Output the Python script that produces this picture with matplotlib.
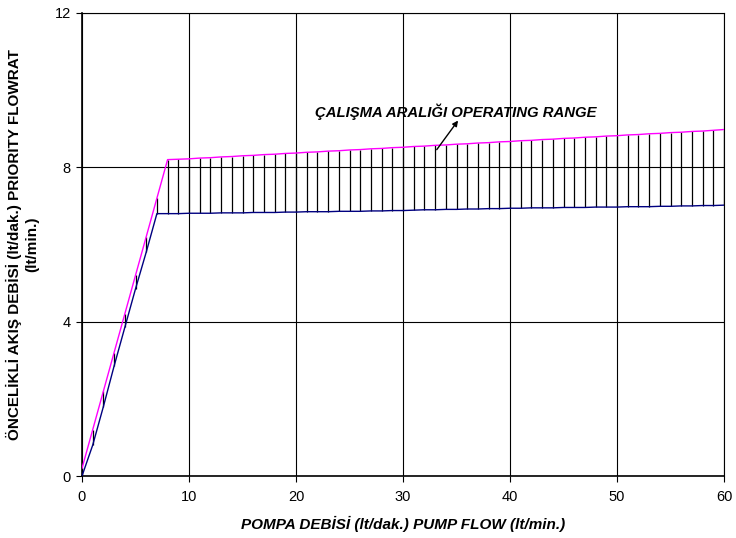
import matplotlib
matplotlib.use("Agg")
import matplotlib.pyplot as plt

plt.rcParams['font.family'] = ['Liberation Sans', 'DejaVu Sans']

pump_flow = list(range(61))
upper = [0.2, 1.2, 2.2, 3.2, 4.2, 5.2, 6.2, 7.2, 8.20,
         8.21, 8.22, 8.24, 8.25, 8.27, 8.28, 8.30, 8.31, 8.33, 8.34, 8.36,
         8.37, 8.39, 8.40, 8.42, 8.43, 8.45, 8.46, 8.48, 8.49, 8.51,
         8.52, 8.54, 8.55, 8.57, 8.58, 8.60, 8.61, 8.63, 8.64, 8.66,
         8.67, 8.69, 8.70, 8.72, 8.73, 8.75, 8.76, 8.78, 8.79, 8.81,
         8.82, 8.84, 8.85, 8.87, 8.88, 8.90, 8.91, 8.93, 8.94, 8.96, 8.98]
lower = [0.0, 0.8, 1.8, 2.85, 3.85, 4.85, 5.8, 6.8,
         6.80, 6.80, 6.81, 6.81, 6.81, 6.82, 6.82, 6.82, 6.83, 6.83, 6.83,
         6.84, 6.84, 6.85, 6.85, 6.85, 6.86, 6.86, 6.86, 6.87, 6.87, 6.88,
         6.88, 6.89, 6.90, 6.90, 6.91, 6.91, 6.92, 6.92, 6.93, 6.93,
         6.94, 6.94, 6.95, 6.95, 6.95, 6.96, 6.96, 6.96, 6.97, 6.97,
         6.97, 6.98, 6.98, 6.98, 6.99, 6.99, 7.00, 7.00, 7.01, 7.01, 7.02]

x_ticks = [0, 10, 20, 30, 40, 50, 60]
y_ticks = [0, 4, 8, 12]

fig = plt.figure(figsize=(7.36, 5.38), dpi=100)
ax = fig.add_axes([82/736, 1-476/538, (724-82)/736, (476-13)/538])

ax.vlines(pump_flow, lower, upper, colors='black', linewidth=0.9, zorder=2)
ax.plot(pump_flow, upper, color='#FF00FF', linewidth=1.0, zorder=3)
ax.plot(pump_flow, lower, color='#000080', linewidth=1.0, zorder=3)

ax.set_xlim(0, 60)
ax.set_ylim(0, 12)
ax.set_xticks(x_ticks)
ax.set_yticks(y_ticks)
ax.grid(True, color='black', linewidth=0.8, zorder=1)
ax.set_axisbelow(True)
for s in ax.spines.values():
    s.set_color('black')
    s.set_linewidth(0.8)
ax.spines['left'].set_linewidth(1.2)
ax.spines['bottom'].set_linewidth(1.2)
ax.tick_params(axis='both', labelsize=10.5, length=4, width=0.8, direction='out', pad=4)
ax.tick_params(axis='x', pad=6)

ax.set_xlabel('POMPA DEBİSİ (lt/dak.) PUMP FLOW (lt/min.)', fontsize=11,
              fontweight='bold', style='italic', labelpad=9)
ax.set_ylabel('ÖNCELİKLİ AKIŞ DEBİSİ (lt/dak.) PRIORITY FLOWRAT\n(lt/min.)', fontsize=11,
              fontweight='bold', labelpad=11, linespacing=1.3)

ax.annotate('', xy=(35.3, 9.27), xytext=(33.0, 8.40),
            arrowprops=dict(arrowstyle='-|>', color='black', lw=1.0, mutation_scale=8))
ax.text(21.8, 9.45, 'ÇALIŞMA ARALIĞI OPERATING RANGE', fontsize=10.7,
        fontweight='bold', style='italic', ha='left', va='center')

fig.savefig('out.png', dpi=100)
